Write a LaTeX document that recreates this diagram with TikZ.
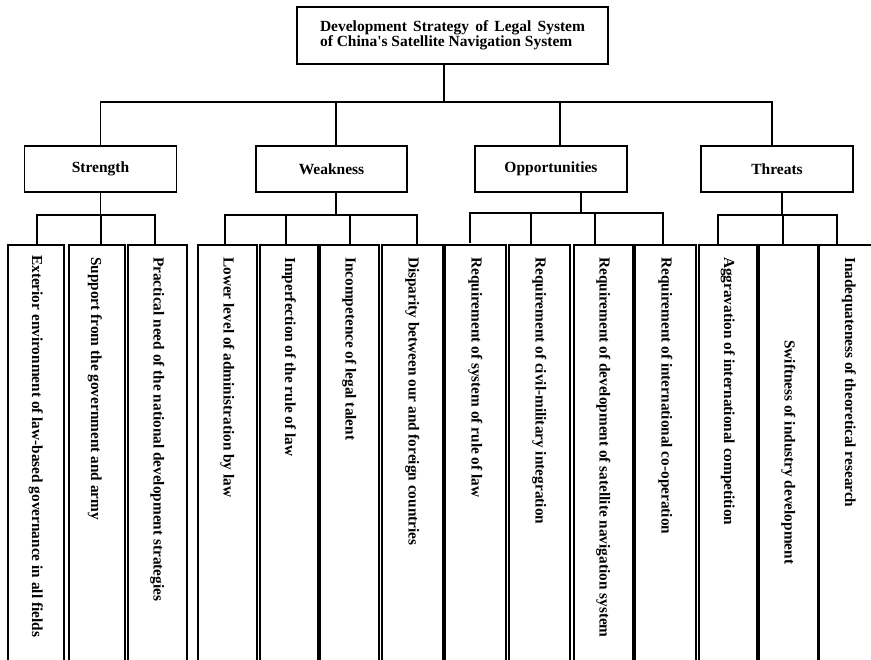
\documentclass[tikz,border=0pt]{standalone}
\usepackage{fontspec}
\setmainfont{Liberation Serif}[Ligatures=TeXOff]
\begin{document}
\begin{tikzpicture}[x=1pt,y=-1pt,
  box/.style={draw=black,line width=1.8pt,fill=white,inner sep=0pt,
    font=\fontsize{15.5}{14}\selectfont\bfseries},
  catbox/.style={box,minimum width=152pt,minimum height=46pt},
  leafbox/.style={draw=black,line width=1.8pt,inner sep=0pt,anchor=north west,minimum height=440pt},
  leaftext/.style={rotate=-90,anchor=west,inner sep=0pt,
    font=\fontsize{15.3}{15}\selectfont\bfseries},
  conn/.style={line width=1.5pt,line cap=rect}]
\useasboundingbox (0,0) rectangle (871,660);
\clip (0,0) rectangle (871,660);

% root
\node[box,minimum width=311pt,minimum height=57pt,align=left] (root) at (452.5,35.5)
  {\makebox[265pt][s]{Development Strategy of Legal System}\\of China's Satellite Navigation System};

% SWOT categories
\node[catbox] (str) at (100.5,169) {Strength};
\node[catbox,minimum width=151pt] (wea) at (331.5,169) {Weakness};
\node[catbox] (opp) at (551,169) {Opportunities};
\node[catbox] (thr) at (777,169) {Threats};

% leaves: boxes
\node[leafbox,minimum width=56pt] (s1) at (7,244) {};
\node[leafbox,minimum width=56pt] (s2) at (68,244) {};
\node[leafbox,minimum width=59pt] (s3) at (127,244) {};
\node[leafbox,minimum width=59pt] (w1) at (197,244) {};
\node[leafbox,minimum width=58pt] (w2) at (259,244) {};
\node[leafbox,minimum width=59pt] (w3) at (319,244) {};
\node[leafbox,minimum width=61pt] (w4) at (381,244) {};
\node[leafbox,minimum width=61pt] (o1) at (444,244) {};
\node[leafbox,minimum width=61pt] (o2) at (508,244) {};
\node[leafbox,minimum width=59pt] (o3) at (573,244) {};
\node[leafbox,minimum width=61pt] (o4) at (634,244) {};
\node[leafbox,minimum width=58pt] (t1) at (698,244) {};
\node[leafbox,minimum width=59pt] (t2) at (758,244) {};
\node[leafbox,minimum width=60pt] (t3) at (818,244) {};

% leaves: vertical labels
\node[leaftext] (s1t) at ([yshift=-11pt]s1.north) {Exterior environment of law-based governance in all fields};
\node[leaftext] (s2t) at ([yshift=-13pt,xshift=-2pt]s2.north) {Support from the government and army};
\node[leaftext] (s3t) at ([yshift=-13pt]s3.north) {Practical need of the national development strategies};
\node[leaftext] (w1t) at ([yshift=-13pt]w1.north) {Lower level of administration by law};
\node[leaftext] (w2t) at ([yshift=-13pt]w2.north) {Imperfection of the rule of law};
\node[leaftext] (w3t) at ([yshift=-13pt]w3.north) {Incompetence of legal talent};
\node[leaftext] (w4t) at ([yshift=-13pt]w4.north) {Disparity between our and foreign countries};
\node[leaftext] (o1t) at ([yshift=-13pt]o1.north) {Requirement of system of rule of law};
\node[leaftext] (o2t) at ([yshift=-13pt]o2.north) {Requirement of civil-military integration};
\node[leaftext] (o3t) at ([yshift=-13pt]o3.north) {Requirement of development of satellite navigation system};
\node[leaftext] (o4t) at ([yshift=-13pt]o4.north) {Requirement of international co-operation};
\node[leaftext] (t1t) at ([yshift=-13pt]t1.north) {Aggravation of international competition};
\node[leaftext] (t2t) at ([yshift=-96pt]t2.north) {Swiftness of industry development};
\node[leaftext] (t3t) at ([yshift=-13pt]t3.north) {Inadequateness of theoretical research};

% root to categories
\draw[conn] ([xshift=-8.5pt]root.south) -- ++(0,37) coordinate (topbar);
\draw[conn] (str.north) |- (topbar);
\draw[conn] ([xshift=4.5pt]wea.north) |- (topbar);
\draw[conn] ([xshift=9pt]opp.north) |- (topbar);
\draw[conn] ([xshift=-5pt]thr.north) |- (topbar);

% Strength branch
\draw[conn] (str.south) -- ++(0,22) coordinate (sbar);
\draw[conn] ([xshift=1pt]s1.north) |- (sbar);
\draw[conn] ([xshift=4pt]s2.north) |- (sbar);
\draw[conn] ([xshift=-2.5pt]s3.north) |- (sbar);

% Weakness branch
\draw[conn] ([xshift=4.5pt]wea.south) -- ++(0,22) coordinate (wbar);
\draw[conn] ([xshift=-2.5pt]w1.north) |- (wbar);
\draw[conn] ([xshift=-3pt]w2.north) |- (wbar);
\draw[conn] ([xshift=0.5pt]w3.north) |- (wbar);
\draw[conn] ([xshift=4.5pt]w4.north) |- (wbar);

% Opportunities branch
\draw[conn] ([xshift=30pt]opp.south) -- ++(0,20) coordinate (obar);
\draw[conn] ([xshift=-5.5pt,yshift=2pt]o1.north) |- (obar);
\draw[conn] ([xshift=-8.5pt]o2.north) |- (obar);
\draw[conn] ([xshift=-8.5pt]o3.north) |- (obar);
\draw[conn] ([xshift=-2.5pt]o4.north) |- (obar);

% Threats branch
\draw[conn] ([xshift=5pt]thr.south) -- ++(0,22) coordinate (tbar);
\draw[conn] ([xshift=-10pt]t1.north) |- (tbar);
\draw[conn] ([xshift=-5.5pt]t2.north) |- (tbar);
\draw[conn] ([xshift=-12pt]t3.north) |- (tbar);
\end{tikzpicture}
\end{document}
